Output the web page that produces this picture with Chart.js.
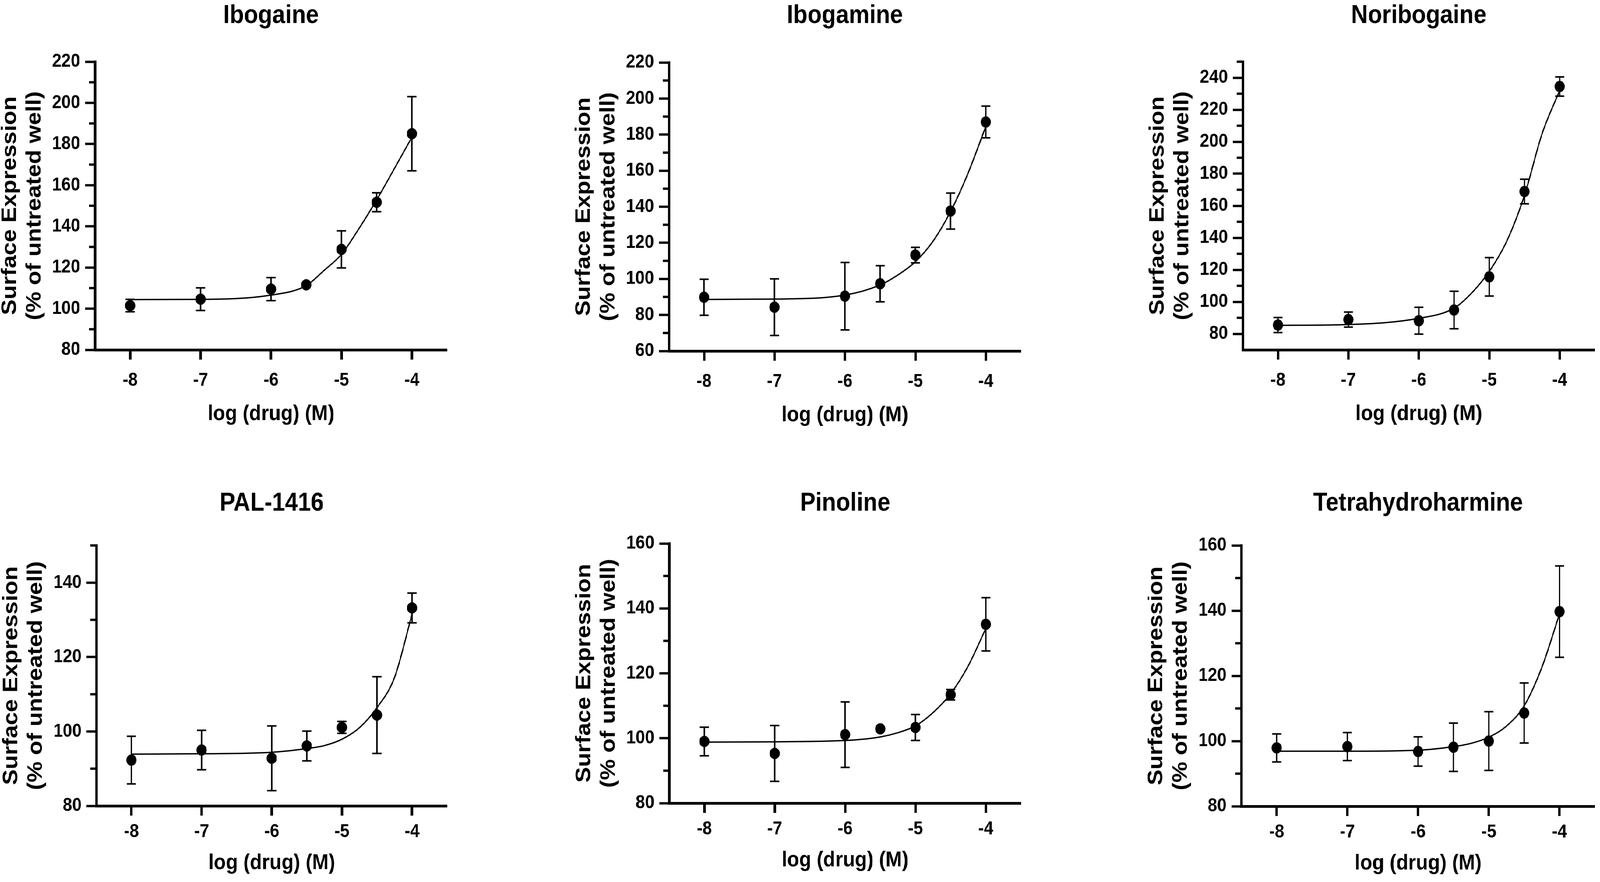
<!DOCTYPE html>
<html>
<head>
<meta charset="utf-8">
<script src="https://cdn.jsdelivr.net/npm/chart.js@4.4.1/dist/chart.umd.min.js"></script>
<style>
  html, body { margin: 0; padding: 0; background: #fff; overflow: hidden; }
  #wrap { position: relative; width: 4550px; height: 2259px; overflow: hidden; background: #fff; transform-origin: 0 0; }
  canvas { position: absolute; }
</style>
</head>
<body>
<div id="wrap"></div>
<script>
// log (drug) (M) of the measured wells
const doses = [-8, -7, -6, -5.5, -5, -4.5, -4];
const fitX = [-8, -7, -6, -5.5, -5.25, -5, -4.75, -4.5, -4.25, -4];
const xTicks = [-8, -7, -6, -5, -4];

const names = ['Ibogaine', 'Ibogamine', 'Noribogaine', 'PAL-1416', 'Pinoline', 'Tetrahydroharmine'];

// mean, error (SEM) and fitted curve, % of untreated well
const ibogaineMean = [101.5, 104.6, 109.5, 111.6, 128.8, 151.7, 185.0];
const ibogaineErr  = [3.0, 5.5, 5.6, 0, 9.0, 4.6, 18.0];
const ibogaineFit  = [104.4, 104.5, 106.6, 111.2, 118.5, 126.4, 139.0, 152.9, 168.0, 183.3];

const ibogamineMean = [89.8, 84.3, 90.4, 97.3, 113.2, 137.6, 187.0];
const ibogamineErr  = [10.0, 15.7, 18.7, 10.0, 4.3, 10.0, 8.8];
const ibogamineFit  = [88.6, 88.8, 91.0, 96.6, 102.1, 109.5, 120.8, 137.3, 158.8, 184.5];

const noribogaineMean = [85.5, 88.9, 88.2, 94.9, 115.6, 168.9, 234.5];
const noribogaineErr  = [4.7, 4.7, 8.4, 11.7, 12.0, 7.7, 6.0];
const noribogaineFit  = [85.3, 85.8, 89.7, 96.0, 105.5, 119.0, 138.0, 166.5, 205.0, 232.0];

const palMean = [92.3, 95.0, 92.8, 96.1, 101.1, 104.4, 133.2];
const palErr  = [6.4, 5.3, 8.7, 4.0, 1.6, 10.3, 4.0];
const palFit  = [93.9, 94.0, 94.4, 95.4, 96.2, 97.9, 101.0, 106.4, 114.5, 131.5];

const pinolineMean = [99.0, 95.3, 101.1, 102.9, 103.3, 113.4, 135.1];
const pinolineErr  = [4.4, 8.6, 10.1, 0, 4.0, 1.6, 8.2];
const pinolineFit  = [98.8, 98.9, 99.3, 100.4, 101.7, 103.8, 107.9, 113.7, 122.3, 133.8];

const thhMean = [97.9, 98.3, 96.8, 98.1, 100.0, 108.6, 139.7];
const thhErr  = [4.3, 4.3, 4.5, 7.4, 9.0, 9.2, 14.0];
const thhFit  = [96.9, 96.9, 97.2, 98.3, 99.3, 101.2, 104.6, 110.8, 122.6, 139.0];

// y axis ranges and tick labels
const yRanges = [[80, 220], [60, 220], [70, 250], [80, 150], [80, 160], [80, 160]];
const yMajor = [
  [80, 100, 120, 140, 160, 180, 200, 220],
  [60, 80, 100, 120, 140, 160, 180, 200, 220],
  [80, 100, 120, 140, 160, 180, 200, 220, 240],
  [80, 100, 120, 140],
  [80, 100, 120, 140, 160],
  [80, 100, 120, 140, 160]
];
const yMinor = [
  [90, 110, 130, 150, 170, 190, 210],
  [70, 90, 110, 130, 150, 170, 190, 210],
  [90, 110, 130, 150, 170, 190, 210, 230, 250],
  [90, 110, 130, 150],
  [90, 110, 130, 150],
  [90, 110, 130, 150]
];

const means = [ibogaineMean, ibogamineMean, noribogaineMean, palMean, pinolineMean, thhMean];
const errs = [ibogaineErr, ibogamineErr, noribogaineErr, palErr, pinolineErr, thhErr];
const fits = [ibogaineFit, ibogamineFit, noribogaineFit, palFit, pinolineFit, thhFit];

// layout of each panel (px inside its canvas)
const COLX = [0, 1632, 3264];
const ROWS = [
  { y: 0, h: 1130, titleY: 41, labOff: 79, titleOff: 165 },
  { y: 1130, h: 1129, titleY: 160, labOff: 67, titleOff: 147 }
];
const geo = [
  { left: 270, top: 158, bottom: 896 },
  { left: 270, top: 160, bottom: 899 },
  { left: 270, top: 158, bottom: 896 },
  { left: 274, top: 267, bottom: 934 },
  { left: 271, top: 262, bottom: 927 },
  { left: 266, top: 267, bottom: 935 }
];
const CW = 1286, PLOT_W = 1007;
const FONT = '"Liberation Sans", Arial, Helvetica, sans-serif';

Chart.defaults.font.family = FONT;
Chart.defaults.font.weight = 'bold';
Chart.defaults.color = '#000';

// stretch the 4550x2259 page over whatever css viewport we get
const wrap = document.getElementById('wrap');
const sx = (window.innerWidth || 4550) / 4550;
const sy = (window.innerHeight || 2259) / 2259;
wrap.style.transform = 'scale(' + sx + ',' + sy + ')';
const dpr = Math.max(window.devicePixelRatio || 1, 1);

const decor = {
  id: 'decor',
  beforeDatasetsDraw(chart) {
    const ctx = chart.ctx, xs = chart.scales.x, ys = chart.scales.y;
    const ds = chart.data.datasets[1];
    ctx.save();
    ctx.strokeStyle = '#000';
    ctx.lineWidth = 4;
    ds.data.forEach((p, i) => {
      const e = ds.errs[i];
      if (!e) return;
      const x = xs.getPixelForValue(p.x);
      const y1 = ys.getPixelForValue(p.y + e);
      const y2 = ys.getPixelForValue(p.y - e);
      ctx.beginPath();
      ctx.moveTo(x, y1); ctx.lineTo(x, y2);
      ctx.moveTo(x - 13, y1); ctx.lineTo(x + 13, y1);
      ctx.moveTo(x - 13, y2); ctx.lineTo(x + 13, y2);
      ctx.stroke();
    });
    ctx.restore();
  },
  afterDraw(chart, args, opts) {
    const ctx = chart.ctx, ys = chart.scales.y, area = chart.chartArea;
    ctx.save();
    ctx.strokeStyle = '#000';
    ctx.lineWidth = 6;
    opts.minor.forEach(v => {
      const y = ys.getPixelForValue(v);
      ctx.beginPath();
      ctx.moveTo(area.left - 17, y);
      ctx.lineTo(area.left, y);
      ctx.stroke();
    });
    ctx.fillStyle = '#000';
    ctx.font = 'bold 66px ' + FONT;
    ctx.textAlign = 'center';
    ctx.textBaseline = 'middle';
    ctx.fillText(opts.title, (area.left + area.right) / 2, opts.titleY);
    ctx.restore();
  }
};

names.forEach((name, k) => {
  const row = ROWS[Math.floor(k / 3)];
  const g = geo[k];
  const cv = document.createElement('canvas');
  cv.style.width = CW + 'px';
  cv.style.height = row.h + 'px';
  cv.style.left = COLX[k % 3] + 'px';
  cv.style.top = row.y + 'px';
  wrap.appendChild(cv);

  const xH = row.titleOff + 56 * 1.2 / 2;
  const labPad = row.labOff - 25 - 48 * 1.2 / 2;

  new Chart(cv, {
    type: 'scatter',
    data: {
      datasets: [
        {
          type: 'line',
          data: fitX.map((x, i) => ({ x: x, y: fits[k][i] })),
          borderColor: '#000',
          borderWidth: 3.5,
          pointRadius: 0,
          cubicInterpolationMode: 'monotone',
          fill: false,
          clip: false,
          order: 2
        },
        {
          type: 'scatter',
          data: doses.map((x, i) => ({ x: x, y: means[k][i] })),
          errs: errs[k],
          pointRadius: 14.5,
          pointBackgroundColor: '#000',
          pointBorderWidth: 0,
          clip: false,
          order: 1
        }
      ]
    },
    options: {
      responsive: false,
      maintainAspectRatio: false,
      animation: false,
      devicePixelRatio: dpr,
      layout: {
        padding: {
          left: 0,
          top: g.top,
          right: CW - g.left - PLOT_W,
          bottom: row.h - g.bottom - xH
        }
      },
      plugins: {
        legend: { display: false },
        tooltip: { enabled: false },
        decor: { minor: yMinor[k], title: name, titleY: row.titleY }
      },
      scales: {
        x: {
          type: 'linear',
          min: -8.5,
          max: -3.5,
          afterBuildTicks: s => { s.ticks = xTicks.map(v => ({ value: v })); },
          afterFit: s => { s.height = xH; },
          grid: { drawOnChartArea: false, drawTicks: true, tickLength: 25, tickWidth: 7, color: '#000' },
          border: { display: true, width: 7, color: '#000' },
          ticks: { font: { size: 48, weight: 'bold' }, color: '#000', padding: labPad, maxRotation: 0 },
          title: {
            display: true,
            text: 'log (drug) (M)',
            font: { size: 56, weight: 'bold' },
            color: '#000',
            padding: { top: 0, bottom: 0 }
          }
        },
        y: {
          type: 'linear',
          min: yRanges[k][0],
          max: yRanges[k][1],
          afterBuildTicks: s => { s.ticks = yMajor[k].map(v => ({ value: v })); },
          afterFit: s => { s.width = g.left; },
          grid: { drawOnChartArea: false, drawTicks: true, tickLength: 28, tickWidth: 6, color: '#000' },
          border: { display: true, width: 7, color: '#000' },
          ticks: { font: { size: 48, weight: 'bold' }, color: '#000', padding: 14 },
          title: {
            display: true,
            text: ['Surface Expression', '(% of untreated well)'],
            font: { size: 60, weight: 'bold', lineHeight: 70 / 60 },
            color: '#000',
            padding: { top: g.left - 242 - 35, bottom: 0 }
          }
        }
      }
    },
    plugins: [decor]
  });
});
</script>
</body>
</html>
